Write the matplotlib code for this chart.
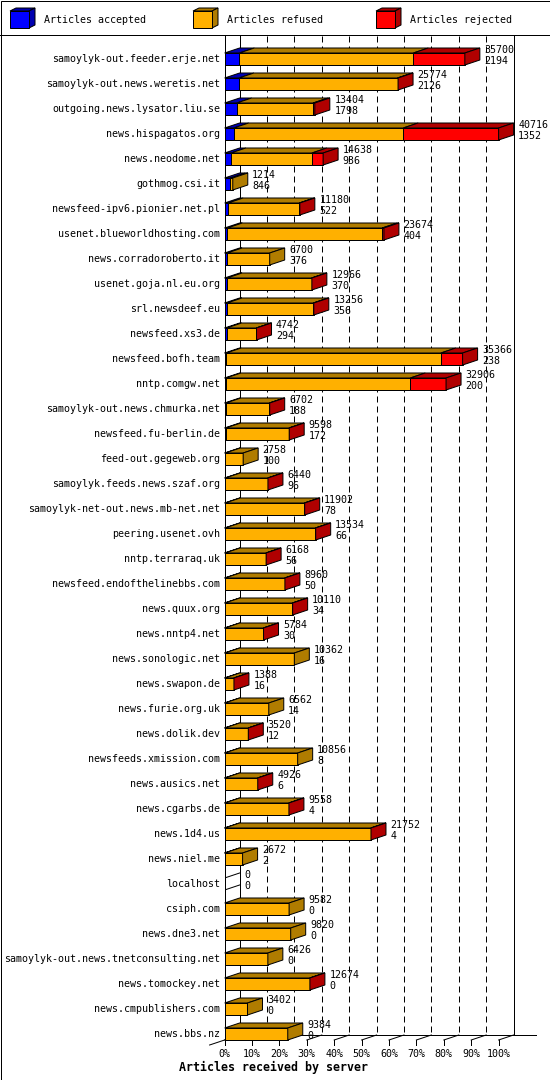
import matplotlib
matplotlib.use("agg")

import matplotlib.pyplot as plt
from matplotlib.patches import Polygon, Rectangle
import numpy as np


# Data read off the chart (rejected counts are estimated from bar widths).
servers = [
    "samoylyk-out.feeder.erje.net", "samoylyk-out.news.weretis.net",
    "outgoing.news.lysator.liu.se", "news.hispagatos.org", "news.neodome.net",
    "gothmog.csi.it", "newsfeed-ipv6.pionier.net.pl",
    "usenet.blueworldhosting.com", "news.corradoroberto.it",
    "usenet.goja.nl.eu.org", "srl.newsdeef.eu", "newsfeed.xs3.de",
    "newsfeed.bofh.team", "nntp.comgw.net", "samoylyk-out.news.chmurka.net",
    "newsfeed.fu-berlin.de", "feed-out.gegeweb.org",
    "samoylyk.feeds.news.szaf.org", "samoylyk-net-out.news.mb-net.net",
    "peering.usenet.ovh", "nntp.terraraq.uk", "newsfeed.endofthelinebbs.com",
    "news.quux.org", "news.nntp4.net", "news.sonologic.net", "news.swapon.de",
    "news.furie.org.uk", "news.dolik.dev", "newsfeeds.xmission.com",
    "news.ausics.net", "news.cgarbs.de", "news.1d4.us", "news.niel.me",
    "localhost", "csiph.com", "news.dne3.net",
    "samoylyk-out.news.tnetconsulting.net", "news.tomockey.net",
    "news.cmpublishers.com", "news.bbs.nz",
]
offered = [35700, 25774, 13404, 40716, 14638, 1214, 11180, 23674, 6700, 12966,
           13256, 4742, 35366, 32906, 6702, 9598, 2758, 6440, 11902, 13534,
           6168, 8960, 10110, 5784, 10362, 1388, 6562, 3520, 10856, 4926,
           9558, 21752, 2672, 0, 9582, 9820, 6426, 12674, 3402, 9384]
accepted = [2194, 2126, 1798, 1352, 936, 846, 522, 404, 376, 370,
            356, 294, 238, 200, 188, 172, 100, 96, 78, 66,
            56, 50, 34, 30, 16, 16, 14, 12, 8, 6,
            4, 4, 2, 0, 0, 0, 0, 0, 0, 0]
refused = [25846, 23568, 11346, 25184, 12034, 368, 10578, 23010, 6324, 12556,
           12830, 4418, 31896, 27388, 6474, 9386, 2658, 6314, 11784, 13428,
           6082, 8880, 10046, 5734, 10346, 1352, 6548, 3488, 10848, 4900,
           9534, 21728, 2670, 0, 9582, 9820, 6426, 12654, 3402, 9384]
rejected = [7660, 80, 260, 14180, 1668, 0, 80, 260, 0, 40,
            70, 30, 3232, 5318, 40, 40, 0, 30, 40, 40,
            30, 30, 30, 20, 0, 20, 0, 20, 0, 20,
            20, 20, 0, 0, 0, 0, 0, 20, 0, 0]

series = ["Articles accepted", "Articles refused", "Articles rejected"]
front_colors = ["#0000ff", "#ffb000", "#ff0000"]
dark_colors = ["#0000b0", "#b07c00", "#b00000"]

plt.rcParams["font.family"] = "DejaVu Sans Mono"
plt.rcParams["font.size"] = 7.2

W, H = 550, 1080
X0, X1 = 224.6, 498.6          # front 0% / 100% in pixels
ROW0, STEP = 59, 25            # first row centre, row pitch
DXP, DYP = 15, 5               # 3d depth in pixels
LW = 0.72

fig = plt.figure(figsize=(W / 100, H / 100), dpi=100)

# Frame + legend layer in pixel coordinates.
ax0 = fig.add_axes([0, 0, 1, 1])
ax0.set_xlim(0, W)
ax0.set_ylim(H, 0)
ax0.axis("off")
ax0.add_patch(Rectangle((0.5, 0.5), W - 1, H - 1, fill=False, lw=LW, ec="k"))
ax0.plot([0, W], [35, 35], color="k", lw=LW)
for i, (name, fc, dc) in enumerate(zip(series, front_colors, dark_colors)):
    lx = 10 + i * 183
    fx, fy, s, d, e = lx, 11, 19, 6, 3
    ax0.add_patch(Polygon([(fx, fy), (fx + s, fy), (fx + s + d, fy - e),
                           (fx + d, fy - e)], closed=True, fc=dc, ec="k", lw=LW))
    ax0.add_patch(Polygon([(fx + s, fy), (fx + s, fy + 17), (fx + s + d, fy + 17 - e),
                           (fx + s + d, fy - e)], closed=True, fc=dc, ec="k", lw=LW))
    ax0.add_patch(Rectangle((fx, fy), s, 17, fc=fc, ec="k", lw=LW))
    ax0.text(lx + 34, 20, name, ha="left", va="center")

# Plot layer: x in percent of the biggest total, y in rows.
n = len(servers)
ax = fig.add_axes([X0 / W, 1 - (ROW0 + STEP * n) / H,
                   (X1 - X0) / W, STEP * (n + 1) / H])
ax.set_xlim(0, 100)
ax.set_ylim(n, -1)
ax.axis("off")

dx = DXP * 100 / (X1 - X0)
dy = DYP / STEP
hh = 6 / STEP
y_top = (35.5 - ROW0) / STEP
floor_front = n - 1 + hh
floor_back = floor_front - dy

kw = dict(color="k", lw=LW, clip_on=False, zorder=1)
ax.plot([0, 0], [y_top, floor_front], **kw)
ax.plot([dx, dx], [y_top, floor_back], **kw)
ax.plot([100 + dx, 100 + dx], [y_top, floor_back], **kw)
for k in range(1, 10):
    ax.plot([10 * k + dx] * 2, [y_top, floor_back], color="k", lw=LW,
            dashes=(6, 4), clip_on=False, zorder=1)
ax.plot([dx, 100 + dx + 8], [floor_back, floor_back], **kw)
ax.plot([-dx, 0], [floor_front + dy, floor_front], **kw)
for k in range(11):
    ax.plot([10 * k, 10 * k + dx], [floor_front, floor_back], **kw)
    ax.plot([10 * k, 10 * k], [floor_front, floor_front + 0.2], **kw)
    ax.text(10 * k, floor_front + 0.55, f"{10 * k}%", ha="center", va="center")

scale = 100 / max(offered)
for i in range(n):
    vals = [accepted[i], refused[i], rejected[i]]
    yt, yb = i - hh, i + hh
    ax.text(-1.6, i, servers[i], ha="right", va="center", clip_on=False)
    left = 0
    last = None
    for v, fc, dc in zip(vals, front_colors, dark_colors):
        if v <= 0:
            continue
        w = v * scale
        ax.add_patch(Polygon([(left, yt), (left + w, yt), (left + w + dx, yt - dy),
                              (left + dx, yt - dy)], closed=True, fc=dc, ec="k",
                             lw=LW, zorder=3, clip_on=False))
        ax.add_patch(Rectangle((left, yt), w, 2 * hh, fc=fc, ec="k", lw=LW,
                               zorder=3, clip_on=False))
        left += w
        last = dc
    if last is not None:
        ax.add_patch(Polygon([(left, yt), (left, yb), (left + dx, yb - dy),
                              (left + dx, yt - dy)], closed=True, fc=last, ec="k",
                             lw=LW, zorder=3, clip_on=False))
    else:
        ax.plot([0, dx], [yt, yt - dy], color="k", lw=LW, zorder=3)
        ax.plot([0, dx], [yb, yb - dy], color="k", lw=LW, zorder=3)
    tx = left + dx + 4.5 * 100 / (X1 - X0)
    ax.text(tx, i - 0.36, str(offered[i]), ha="left", va="center", zorder=4,
            clip_on=False)
    ax.text(tx, i + 0.08, str(accepted[i]), ha="left", va="center", zorder=4,
            clip_on=False)

fig.text(273.5 / W, 1 - 1067 / H, "Articles received by server",
         ha="center", va="center", fontweight="bold", fontsize=8.4)

fig.savefig("out.png", dpi=100)
